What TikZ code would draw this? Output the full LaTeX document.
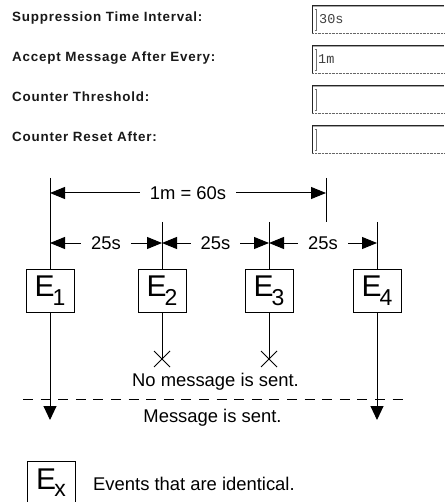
\documentclass[tikz,border=0pt]{standalone}
\usepackage{fontspec}
\setmainfont{Liberation Sans}
\newfontfamily\labelfont[LetterSpace=6]{Liberation Sans}
\newfontfamily\fieldfont{Liberation Mono}
\usetikzlibrary{arrows.meta,shapes.misc}
\newcommand\diagfont{\fontsize{18.4}{20}\selectfont}
\newcommand\evt[2]{{\fontsize{30}{30}\selectfont E\kern-2pt\raisebox{#2}{\fontsize{23}{23}\selectfont #1}}}
\tikzset{
  formlabel/.style={anchor=base west, inner sep=0pt, text=black!90,
    font=\labelfont\fontsize{13.4}{15}\selectfont\bfseries},
  fieldtext/.style={anchor=base west, inner sep=0pt, text=black!75,
    font=\fieldfont\fontsize{13.5}{15}\selectfont},
  fieldedge/.style={line width=0.9pt, black!85},
  fieldshade/.style={line width=0.8pt, black!35},
  fielddots/.style={line width=0.7pt, black!60, dash pattern=on 0.7pt off 0.7pt},
  ibeam/.style={line width=0.6pt, black!55},
  evbox/.style={draw, line width=1pt, minimum width=48pt, minimum height=43pt, inner sep=0pt},
  vline/.style={line width=1pt},
  dimarrow/.style={line width=1pt, {Triangle[length=15pt,width=12pt]}-{Triangle[length=15pt,width=12pt]}},
  dimlabel/.style={fill=white, inner xsep=10pt, inner ysep=1pt, font=\diagfont},
  flowarrow/.style={line width=1pt, -{Triangle[length=14pt,width=13pt]}},
  xmark/.style={cross out, draw, line width=1pt, minimum size=15pt, inner sep=0pt},
  msg/.style={anchor=base, inner sep=0pt, font=\diagfont},
  sepline/.style={line width=1pt, dash pattern=on 10pt off 7.6pt}
}
\begin{document}
\begin{tikzpicture}[x=1pt,y=-1pt]
\useasboundingbox (0,0) rectangle (444,502);
% ---------- form ----------
\node[formlabel] (l1) at (12,22)  {Suppression Time Interval:};
\node[formlabel] (l2) at (12,62)  {Accept Message After Every:};
\node[formlabel] (l3) at (12,102) {Counter Threshold:};
\node[formlabel] (l4) at (12,142) {Counter Reset After:};
\foreach \t in {5,45,85,125}{
  \draw[fieldshade] (313,\t+1.3) -- (444,\t+1.3);
  \draw[fieldedge] (444,\t) -- (312,\t) -- (312,\t+28);
  \draw[fielddots] (312,\t+28) -- (444,\t+28);
  \draw[ibeam] (316,\t+4) -- (316,\t+25)
               (314.6,\t+4) -- (317.4,\t+4)
               (314.6,\t+25) -- (317.4,\t+25);
}
\node[fieldtext] (f1) at (319,24) {30s};
\node[fieldtext] (f2) at (318,64) {1m};
% ---------- timeline ----------
\coordinate (t1) at (50,178);
\coordinate (tm) at (326,178);
\coordinate (bm) at (326,222);
\coordinate (t2) at (162,222);
\coordinate (t3) at (269,222);
\coordinate (t4) at (377,222);
\node[evbox] (E1) at (50,290.5)  {\evt{1}{-9pt}};
\node[evbox] (E2) at (162,290.5) {\evt{2}{-9pt}};
\node[evbox] (E3) at (269,290.5) {\evt{3}{-9pt}};
\node[evbox] (E4) at (377,290.5) {\evt{4}{-9pt}};
\draw[vline] (t1) -- (E1.north);
\draw[vline] (tm) -- (bm);
\draw[vline] (t2) -- (E2.north);
\draw[vline] (t3) -- (E3.north);
\draw[vline] (t4) -- (E4.north);
% dimension arrows
\coordinate (a1) at (50,193);
\coordinate (a2) at (326,193);
\draw[dimarrow] (a1) -- node[dimlabel] (m60) {1m = 60s} (a2);
\coordinate (b1) at (50,243);
\coordinate (b2) at (162,243);
\coordinate (b3) at (269,243);
\coordinate (b4) at (377,243);
\draw[dimarrow] (b1) -- node[dimlabel] (s1) {25s} (b2);
\draw[dimarrow] (b2) -- node[dimlabel] (s2) {25s} (b3);
\draw[dimarrow] (b3) -- node[dimlabel] (s3) {25s} (b4);
% outcomes
\node[xmark] (x2) at (162,359) {};
\node[xmark] (x3) at (269,359) {};
\draw[vline] (E2.south) -- (x2.center);
\draw[vline] (E3.south) -- (x3.center);
\coordinate (o1) at (50,420);
\coordinate (o4) at (377,420);
\draw[flowarrow] (E1.south) -- (o1);
\draw[flowarrow] (E4.south) -- (o4);
\node[msg] (nomsg) at (215.5,386) {No message is sent.};
\coordinate (d1) at (23,399);
\coordinate (d2) at (410,399);
\draw[sepline] (d1) -- (d2);
\node[msg] (yesmsg) at (212.5,422) {Message is sent.};
% legend
\node[evbox] (Ex) at (51,482.5) {\evt{x}{-7pt}};
\node[anchor=base west, inner sep=0pt, font=\diagfont] (legend) at (93,490) {Events that are identical.};
\end{tikzpicture}
\end{document}
